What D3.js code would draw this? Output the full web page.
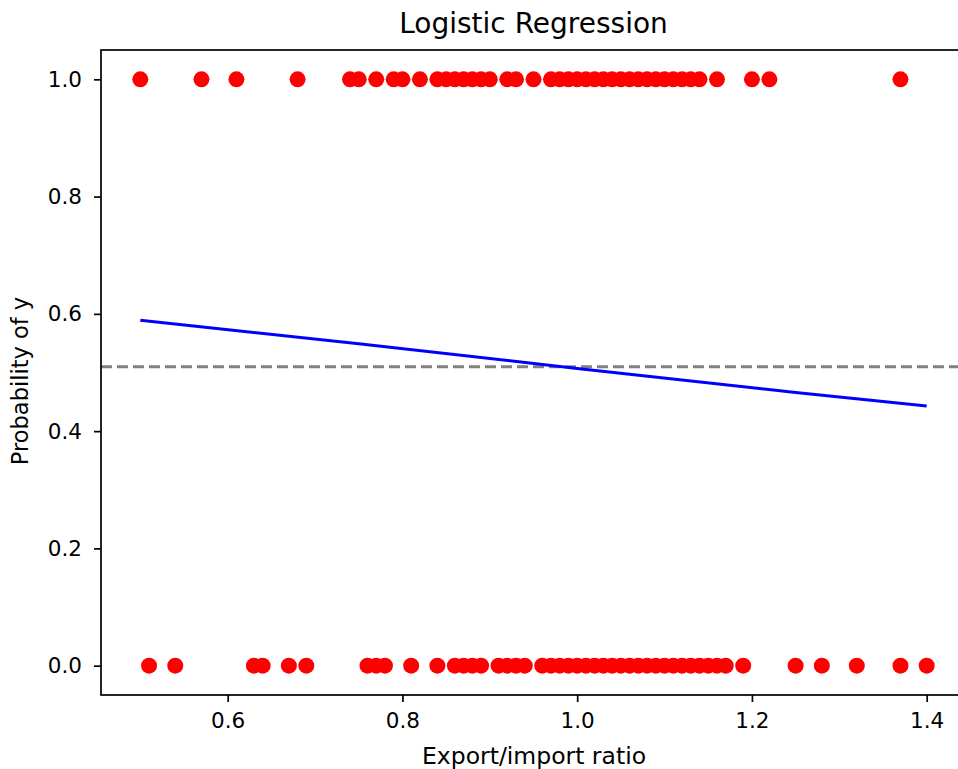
<!DOCTYPE html>
<html>
<head>
<meta charset="utf-8">
<script src="https://cdn.jsdelivr.net/npm/d3@7"></script>
<style>
  body { margin: 0; background: #fff; }
  text { font-family: "DejaVu Sans", sans-serif; fill: #000; }
</style>
</head>
<body>
<svg id="chart" width="958" height="769"></svg>
<script>
// observations with y = 1
const xOne = [0.50, 0.57, 0.61, 0.68, 0.74, 0.75, 0.77, 0.79, 0.80, 0.82,
  0.84, 0.85, 0.86, 0.87, 0.88, 0.89, 0.90, 0.92, 0.93, 0.95,
  0.97, 0.98, 0.99, 1.00, 1.01, 1.02, 1.03, 1.04, 1.05, 1.06, 1.07, 1.08,
  1.09, 1.10, 1.11, 1.12, 1.13, 1.14, 1.16, 1.20, 1.22, 1.37];
// observations with y = 0
const xZero = [0.51, 0.54, 0.63, 0.64, 0.67, 0.69, 0.76, 0.77, 0.78, 0.81,
  0.84, 0.86, 0.87, 0.88, 0.89, 0.91, 0.92, 0.93, 0.94,
  0.96, 0.97, 0.98, 0.99, 1.00, 1.01, 1.02, 1.03, 1.04, 1.05, 1.06, 1.07,
  1.08, 1.09, 1.10, 1.11, 1.12, 1.13, 1.14, 1.15, 1.16, 1.17, 1.19,
  1.25, 1.28, 1.32, 1.37, 1.40];
// fitted probability curve
const curveX = [0.5, 0.75, 1.0, 1.25, 1.4];
const curveP = [0.589, 0.549, 0.507, 0.466, 0.443];
const threshold = 0.51;
const xTicks = [0.6, 0.8, 1.0, 1.2, 1.4];
const yTicks = [0.0, 0.2, 0.4, 0.6, 0.8, 1.0];

const svg = d3.select("#chart");
const mLeft = 101, mTop = 50, mRight = 966, mBottom = 695;

const x = d3.scaleLinear().domain([0.455, 1.445]).range([mLeft, mRight]);
const y = d3.scaleLinear().domain([-0.05, 1.05]).range([mBottom, mTop]);

// threshold line
svg.append("line")
  .attr("x1", mLeft).attr("x2", mRight)
  .attr("y1", y(threshold)).attr("y2", y(threshold))
  .attr("stroke", "#808080")
  .attr("stroke-width", 3)
  .attr("stroke-dasharray", "11,5");

// points
const pts = xOne.map(v => [v, 1]).concat(xZero.map(v => [v, 0]));
svg.append("g")
  .selectAll("circle")
  .data(pts)
  .join("circle")
  .attr("cx", d => x(d[0]))
  .attr("cy", d => y(d[1]))
  .attr("r", 8)
  .attr("fill", "#ff0000");

// curve
const line = d3.line().x(d => x(d[0])).y(d => y(d[1]));
svg.append("path")
  .datum(curveX.map((v, i) => [v, curveP[i]]))
  .attr("d", line)
  .attr("fill", "none")
  .attr("stroke", "#0000ff")
  .attr("stroke-width", 3);

// axes
const xAxis = svg.append("g")
  .attr("transform", `translate(0,${mBottom})`)
  .call(d3.axisBottom(x).tickValues(xTicks).tickFormat(d3.format(".1f")).tickSizeOuter(0).tickSize(7).tickPadding(11));
const yAxis = svg.append("g")
  .attr("transform", `translate(${mLeft},0)`)
  .call(d3.axisLeft(y).tickValues(yTicks).tickFormat(d3.format(".1f")).tickSizeOuter(0).tickSize(7).tickPadding(12));
[xAxis, yAxis].forEach(g => {
  g.select(".domain").remove();
  g.selectAll("text").style("font-size", "21.5px").attr("fill", "#000");
  g.selectAll("line").attr("stroke", "#000").attr("stroke-width", 1.7);
});

// frame
svg.append("rect")
  .attr("x", mLeft).attr("y", mTop)
  .attr("width", mRight - mLeft).attr("height", mBottom - mTop)
  .attr("fill", "none")
  .attr("stroke", "#000")
  .attr("stroke-width", 1.7);

// labels
svg.append("text")
  .attr("x", (mLeft + mRight) / 2).attr("y", 33)
  .attr("text-anchor", "middle")
  .style("font-size", "28px")
  .text("Logistic Regression");
svg.append("text")
  .attr("x", 534).attr("y", 764)
  .attr("text-anchor", "middle")
  .style("font-size", "23.5px")
  .text("Export/import ratio");
svg.append("text")
  .attr("transform", "translate(28,381) rotate(-90)")
  .attr("text-anchor", "middle")
  .style("font-size", "22.5px")
  .text("Probability of y");
</script>
</body>
</html>
